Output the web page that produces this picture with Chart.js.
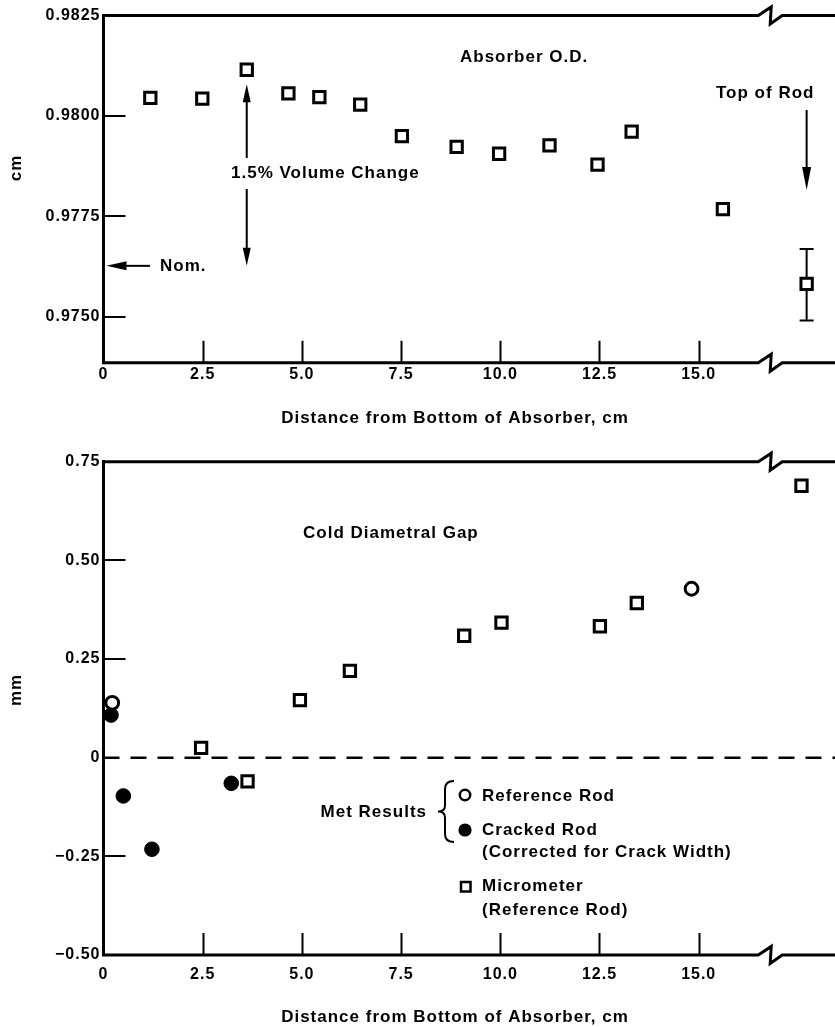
<!DOCTYPE html>
<html>
<head>
<meta charset="utf-8">
<script src="https://cdn.jsdelivr.net/npm/chart.js@4.4.0/dist/chart.umd.min.js"></script>
<style>
  html, body { margin: 0; padding: 0; background: #fff; }
  #wrap { position: relative; width: 835px; height: 1027px; overflow: hidden; }
  #odChart { position: absolute; left: 0; top: 0; }
  #gapChart { position: absolute; left: 0; top: 430px; }
</style>
</head>
<body>
<div id="wrap">
  <canvas id="odChart" width="835" height="430"></canvas>
  <canvas id="gapChart" width="835" height="597"></canvas>
</div>
<script>
'use strict';

// shared x axis (distance from bottom of absorber, cm)
var xTicks = [0, 2.5, 5, 7.5, 10, 12.5, 15];
var xMax = 18.435;      // right edge of the picture (past the axis break)
var xBreak = 16.5;      // where the axis break zigzag starts

// 1. top panel - absorber O.D. (cm)
var odX = [1.18, 2.49, 3.61, 4.66, 5.44, 6.47, 7.52, 8.90, 9.97, 11.24, 12.45, 13.31, 15.61, 17.72];
var odY = [0.98045, 0.98043, 0.98115, 0.98056, 0.98047, 0.98028, 0.97950, 0.97923, 0.97906, 0.97927, 0.97879, 0.97961, 0.97768, 0.97582];
var odErrBar = [0.97491, 0.97669];   // error bar on the top-of-rod point (last one)
var odNominal = 0.97627;
var odVolumeTip = 0.98079;           // upper end of the 1.5% volume change arrow
var odTicks = [0.975, 0.9775, 0.98, 0.9825];

// 2. bottom panel - cold diametral gap (mm)
var refRodX = [0.22, 14.82];
var refRodY = [0.139, 0.428];
var crackedX = [0.19, 0.50, 1.22, 3.22];
var crackedY = [0.108, -0.097, -0.232, -0.065];
var microX = [2.46, 3.63, 4.95, 6.21, 9.09, 10.03, 12.51, 13.44, 17.59];
var microY = [0.025, -0.060, 0.146, 0.220, 0.309, 0.342, 0.333, 0.392, 0.689];
var gapTicks = [-0.5, -0.25, 0, 0.25, 0.5, 0.75];

var FONT = '"Liberation Sans", Arial, Helvetica, sans-serif';
Chart.defaults.font.family = FONT;
Chart.defaults.font.weight = 'bold';
Chart.defaults.font.size = 16;
Chart.defaults.color = '#000';

function pts(xs, ys) {
  return xs.map(function (x, i) { return { x: x, y: ys[i] }; });
}

function xScale(axisH, pad) {
  return {
    type: 'linear', min: 0, max: xMax,
    grid: { display: false, drawTicks: false },
    border: { display: false },
    ticks: {
      padding: pad, autoSkip: false, maxRotation: 0,
      font: { size: 16, weight: 'bold' }, color: '#000',
      callback: function (v) { return v === 0 ? '0' : v.toFixed(1); }
    },
    afterBuildTicks: function (s) { s.ticks = xTicks.map(function (v) { return { value: v }; }); },
    afterFit: function (s) { s.height = axisH; }
  };
}

function yScale(min, max, list, fmt) {
  return {
    type: 'linear', min: min, max: max,
    grid: { display: false, drawTicks: false },
    border: { display: true, width: 3, color: '#000' },
    ticks: {
      padding: 3, autoSkip: false,
      font: { size: 16, weight: 'bold' }, color: '#000',
      callback: fmt
    },
    afterBuildTicks: function (s) { s.ticks = list.map(function (v) { return { value: v }; }); },
    afterFit: function (s) { s.width = 103.5; }
  };
}

// helpers for the hand drawn bits
function brokenLine(ctx, chart, x0, x1, yy) {
  var b = chart.scales.x.getPixelForValue(xBreak);
  ctx.beginPath();
  ctx.moveTo(x0, yy);
  ctx.lineTo(b, yy);
  ctx.lineTo(b + 13, yy - 8.5);
  ctx.lineTo(b + 12, yy + 8.5);
  ctx.lineTo(b + 24, yy);
  ctx.lineTo(x1, yy);
  ctx.stroke();
}

function drawFrame(chart, yList, skip) {
  var ctx = chart.ctx, a = chart.chartArea, x = chart.scales.x, y = chart.scales.y;
  ctx.save();
  ctx.strokeStyle = '#000';
  ctx.lineWidth = 3;
  brokenLine(ctx, chart, a.left, a.right, a.top);
  brokenLine(ctx, chart, a.left - 1.5, a.right, a.bottom);
  ctx.lineWidth = 2;
  ctx.beginPath();
  xTicks.forEach(function (v) {
    if (v === 0) return;
    var p = Math.round(x.getPixelForValue(v)) + 0.5;
    ctx.moveTo(p, a.bottom);
    ctx.lineTo(p, a.bottom - 22);
  });
  yList.forEach(function (v) {
    if (v === y.min || v === y.max || v === skip) return;
    var p = Math.round(y.getPixelForValue(v));
    ctx.moveTo(a.left, p);
    ctx.lineTo(a.left + 22, p);
  });
  ctx.stroke();
  ctx.restore();
}

function arrow(ctx, x1, y1, x2, y2, len, half) {
  var ang = Math.atan2(y2 - y1, x2 - x1), c = Math.cos(ang), s = Math.sin(ang);
  ctx.beginPath();
  ctx.moveTo(x1, y1);
  ctx.lineTo(x2 - c * len * 0.6, y2 - s * len * 0.6);
  ctx.stroke();
  ctx.beginPath();
  ctx.moveTo(x2, y2);
  ctx.lineTo(x2 - c * len + s * half, y2 - s * len - c * half);
  ctx.lineTo(x2 - c * len - s * half, y2 - s * len + c * half);
  ctx.closePath();
  ctx.fill();
}

function text(ctx, t, x, y, align) {
  ctx.textAlign = align || 'left';
  ctx.fillText(t, x, y);
}

function vText(ctx, t, x, y) {
  ctx.save();
  ctx.translate(x, y);
  ctx.rotate(-Math.PI / 2);
  ctx.textAlign = 'center';
  ctx.fillText(t, 0, 0);
  ctx.restore();
}

function brace(ctx, x, yTop, yBot) {
  var ym = (yTop + yBot) / 2, w = 16, m = x + 7;
  ctx.beginPath();
  ctx.moveTo(x + w, yTop);
  ctx.quadraticCurveTo(m, yTop, m, yTop + 8);
  ctx.lineTo(m, ym - 6);
  ctx.quadraticCurveTo(m, ym, x, ym);
  ctx.quadraticCurveTo(m, ym, m, ym + 6);
  ctx.lineTo(m, yBot - 8);
  ctx.quadraticCurveTo(m, yBot, x + w, yBot);
  ctx.stroke();
}

var spacing = {
  id: 'spacing',
  beforeDraw: function (chart) { chart.ctx.letterSpacing = '1px'; }
};

var odDecor = {
  id: 'odDecor',
  beforeDatasetsDraw: function (chart) {
    var ctx = chart.ctx, x = chart.scales.x, y = chart.scales.y;
    var px = x.getPixelForValue(odX[odX.length - 1]);
    var lo = y.getPixelForValue(odErrBar[0]), hi = y.getPixelForValue(odErrBar[1]);
    ctx.save();
    ctx.strokeStyle = '#000';
    ctx.lineWidth = 2;
    ctx.beginPath();
    ctx.moveTo(px, lo); ctx.lineTo(px, hi);
    ctx.moveTo(px - 7, lo); ctx.lineTo(px + 7, lo);
    ctx.moveTo(px - 7, hi); ctx.lineTo(px + 7, hi);
    ctx.stroke();
    ctx.restore();
  },
  afterDraw: function (chart) {
    var ctx = chart.ctx, x = chart.scales.x, y = chart.scales.y;
    drawFrame(chart, odTicks, null);
    ctx.save();
    ctx.fillStyle = '#000';
    ctx.strokeStyle = '#000';
    ctx.lineWidth = 2;
    ctx.font = 'bold 17px ' + FONT;
    ctx.textBaseline = 'middle';
    ctx.letterSpacing = '1px';

    text(ctx, 'Absorber O.D.', 460, 57);
    text(ctx, 'Top of Rod', 716, 93);
    var tx = x.getPixelForValue(odX[odX.length - 1]);
    arrow(ctx, tx, 110, tx, 190, 23, 4.5);

    var ny = y.getPixelForValue(odNominal);
    var vx = x.getPixelForValue(odX[2]);
    text(ctx, '1.5% Volume Change', 231, 173);
    arrow(ctx, vx, 158, vx, y.getPixelForValue(odVolumeTip), 18, 4);
    arrow(ctx, vx, 189, vx, ny, 18, 4);

    arrow(ctx, 150, ny, chart.chartArea.left + 3, ny, 20, 4.5);
    text(ctx, 'Nom.', 160, ny);

    vText(ctx, 'cm', 16, 168);
    text(ctx, 'Distance from Bottom of Absorber, cm', 455, 418, 'center');
    ctx.restore();
  }
};

var gapDecor = {
  id: 'gapDecor',
  beforeDatasetsDraw: function (chart) {
    var ctx = chart.ctx, a = chart.chartArea, y = chart.scales.y;
    var p = y.getPixelForValue(0);
    ctx.save();
    ctx.strokeStyle = '#000';
    ctx.lineWidth = 2.5;
    ctx.setLineDash([16, 11]);
    ctx.beginPath();
    ctx.moveTo(a.left, p);
    ctx.lineTo(a.right, p);
    ctx.stroke();
    ctx.restore();
  },
  afterDraw: function (chart) {
    var ctx = chart.ctx;
    drawFrame(chart, gapTicks, 0);
    ctx.save();
    ctx.fillStyle = '#000';
    ctx.strokeStyle = '#000';
    ctx.font = 'bold 17px ' + FONT;
    ctx.textBaseline = 'middle';
    ctx.letterSpacing = '1px';

    text(ctx, 'Cold Diametral Gap', 303, 103);
    vText(ctx, 'mm', 16, 260);
    text(ctx, 'Distance from Bottom of Absorber, cm', 455, 587, 'center');

    // legend block
    text(ctx, 'Met Results', 427, 382, 'right');
    ctx.lineWidth = 2;
    brace(ctx, 438, 351, 412);

    ctx.lineWidth = 2.5;
    ctx.beginPath();
    ctx.arc(465, 365, 5.2, 0, Math.PI * 2);
    ctx.stroke();
    text(ctx, 'Reference Rod', 482, 366);

    ctx.beginPath();
    ctx.arc(465, 400, 6.6, 0, Math.PI * 2);
    ctx.fill();
    text(ctx, 'Cracked Rod', 482, 400);
    text(ctx, '(Corrected for Crack Width)', 482, 422);

    ctx.strokeRect(461, 452, 9.5, 9.5);
    text(ctx, 'Micrometer', 482, 456);
    text(ctx, '(Reference Rod)', 482, 480);
    ctx.restore();
  }
};

var squareStyle = {
  pointStyle: 'rect', pointRadius: 8, pointHoverRadius: 8,
  pointBorderWidth: 3, pointBorderColor: '#000', pointBackgroundColor: '#fff',
  showLine: false, clip: false
};

new Chart(document.getElementById('odChart').getContext('2d'), {
  type: 'scatter',
  data: {
    datasets: [Object.assign({ label: 'Absorber O.D.', data: pts(odX, odY) }, squareStyle)]
  },
  options: {
    responsive: false,
    animation: false,
    events: [],
    layout: { autoPadding: false, padding: { top: 15.5, left: 0, right: 0, bottom: 0 } },
    plugins: { legend: { display: false }, tooltip: { enabled: false } },
    scales: {
      x: xScale(67.3, 2),
      y: yScale(0.97386, 0.9825, odTicks, function (v) { return v.toFixed(4); })
    }
  },
  plugins: [spacing, odDecor]
});

new Chart(document.getElementById('gapChart').getContext('2d'), {
  type: 'scatter',
  data: {
    datasets: [
      {
        label: 'Reference Rod', data: pts(refRodX, refRodY), order: 0,
        pointStyle: 'circle', pointRadius: 6.4, pointHoverRadius: 6.4,
        pointBorderWidth: 3, pointBorderColor: '#000', pointBackgroundColor: '#fff',
        showLine: false, clip: false
      },
      {
        label: 'Cracked Rod', data: pts(crackedX, crackedY), order: 1,
        pointStyle: 'circle', pointRadius: 7.3, pointHoverRadius: 7.3,
        pointBorderWidth: 1, pointBorderColor: '#000', pointBackgroundColor: '#000',
        showLine: false, clip: false
      },
      Object.assign({ label: 'Micrometer', data: pts(microX, microY), order: 2 }, squareStyle)
    ]
  },
  options: {
    responsive: false,
    animation: false,
    events: [],
    layout: { autoPadding: false, padding: { top: 31.7, left: 0, right: 0, bottom: 0 } },
    plugins: { legend: { display: false }, tooltip: { enabled: false } },
    scales: {
      x: xScale(72, 10),
      y: yScale(-0.5, 0.75, gapTicks, function (v) {
        return v === 0 ? '0' : v.toFixed(2).replace('-', '\u2212');
      })
    }
  },
  plugins: [spacing, gapDecor]
});
</script>
</body>
</html>
